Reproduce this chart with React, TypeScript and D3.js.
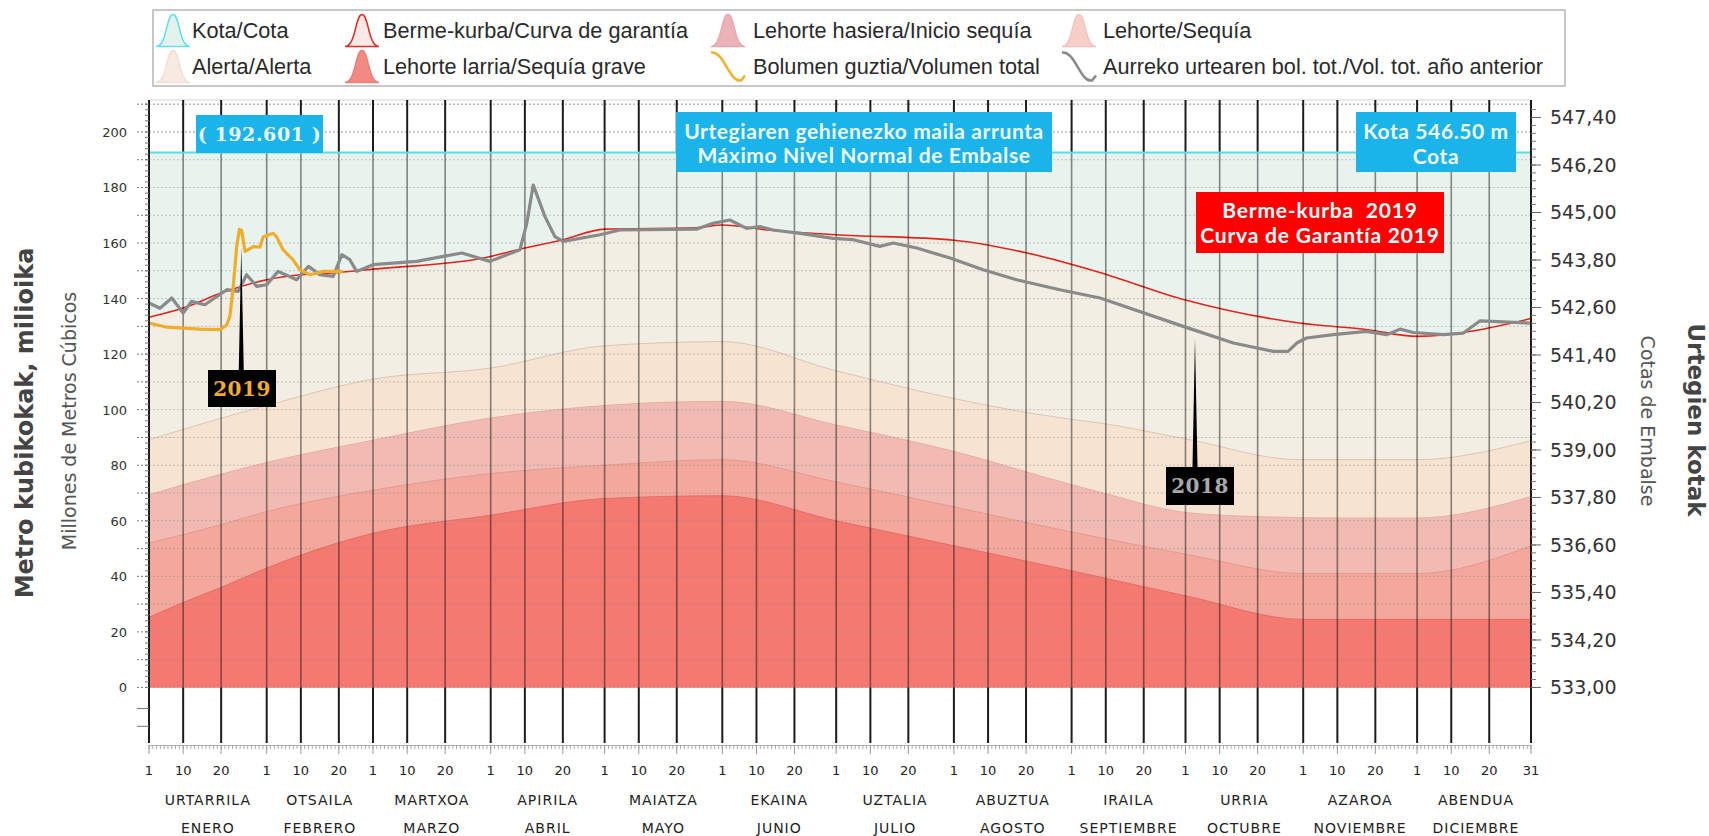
import * as d3 from 'd3';

type Pt = [number, number]; // [day of year, hm³]

// calendar
const monthStart = [1, 32, 60, 91, 121, 152, 182, 213, 244, 274, 305, 335];
const monthsEu = ['URTARRILA', 'OTSAILA', 'MARTXOA', 'APIRILA', 'MAIATZA', 'EKAINA', 'UZTALIA', 'ABUZTUA', 'IRAILA', 'URRIA', 'AZAROA', 'ABENDUA'];
const monthsEs = ['ENERO', 'FEBRERO', 'MARZO', 'ABRIL', 'MAYO', 'JUNIO', 'JULIO', 'AGOSTO', 'SEPTIEMBRE', 'OCTUBRE', 'NOVIEMBRE', 'DICIEMBRE'];
const dayMarks = [1, 10, 20];

// axes
const volumeTicks = [0, 20, 40, 60, 80, 100, 120, 140, 160, 180, 200];
const cotaTicks = [533, 534.2, 535.4, 536.6, 537.8, 539, 540.2, 541.4, 542.6, 543.8, 545, 546.2, 547.4];
const kotaLevel = 192.601;

// reference curves (hm³)
const bermeCurve: Pt[] = [
  [1, 133.3], [10, 136.6], [20, 142], [32, 146.8], [41, 148.6], [51, 149.4], [60, 150.6], [89, 154.6],
  [100, 158.2], [110, 161.2], [121, 165], [145, 165.5], [152, 166.5], [164, 164.7], [182, 163],
  [213, 161], [232, 156.5], [251, 149.6], [274, 139.5], [304, 131.2], [322, 128.8], [335, 126.4], [365, 132.8],
];
const alertaCurve: Pt[] = [
  [1, 89.2], [32, 101.5], [60, 111], [91, 115], [121, 123], [152, 124.5], [182, 114], [213, 104],
  [244, 96.5], [251, 95.3], [274, 89.5], [304, 82], [335, 82], [365, 88.8],
];
const inicioCurve: Pt[] = [
  [1, 69.4], [32, 81], [60, 89], [91, 97], [121, 101.5], [152, 103], [182, 94.5], [213, 85],
  [244, 73], [251, 70.5], [274, 63], [293, 61.5], [315, 61], [335, 61], [365, 68.7],
];
const sequiaCurve: Pt[] = [
  [1, 52], [20, 58.6], [32, 63.3], [60, 71], [91, 77], [121, 80], [152, 82], [182, 74], [213, 65],
  [244, 56], [274, 48], [305, 41], [335, 41], [365, 51],
];
const graveCurve: Pt[] = [
  [1, 25.2], [10, 30.6], [20, 36], [32, 43], [60, 55.5], [91, 62], [121, 68], [152, 69], [182, 60],
  [213, 51], [244, 42], [274, 33], [305, 24.5], [335, 24.5], [365, 24.5],
];

// stored volume 2019 and previous year
const volume2019: Pt[] = [
  [1, 131.2], [5.7, 129.7], [10.9, 129.3], [14.4, 129], [19.7, 128.8], [21.5, 130.6], [22.3, 133.6],
  [23.1, 143], [24.1, 158.7], [24.8, 164.9], [25.4, 164.5], [26.3, 157], [28.5, 158.7], [30.2, 158.5],
  [31.1, 162.3], [33.7, 163.5], [34.6, 162.3], [36.3, 157.6], [38.9, 154], [40.7, 150.4], [43.4, 148.6],
  [46.9, 149.8], [51.3, 149.8], [52.1, 149.6],
];
const volume2018: Pt[] = [
  [1, 138.4], [3.9, 136.5], [7, 140.2], [10, 134.8], [12.2, 139], [15.7, 137.8], [21.5, 143.2],
  [24.5, 142.6], [26.7, 148.6], [29.4, 144.4], [32, 145], [35, 149.8], [39.9, 146.8], [43, 151.6],
  [46, 148.6], [49.5, 148], [51.8, 155.8], [53.9, 154], [55.7, 149.8], [60, 152.2], [71.5, 153.4],
  [78.5, 155.2], [83.4, 156.4], [90.8, 153.4], [98.7, 157.6], [100.5, 167.1], [102.2, 180.9],
  [105.3, 169.5], [107.9, 162.3], [110.1, 160.6], [119.8, 163], [125, 164.7], [145.2, 165],
  [149.5, 167.1], [154, 168.3], [156.6, 166.5], [158.4, 165.3], [161.9, 165.9], [165.4, 164.7],
  [172.5, 163.5], [181.2, 161.7], [186.5, 161.2], [193.5, 158.8], [197, 160], [203.2, 158.2],
  [212, 154.6], [220.7, 150.4], [229.5, 146.8], [240.9, 143.2], [251.5, 140.2], [273.4, 130],
  [286.6, 124], [297.1, 121], [301, 121], [303.3, 124], [305.9, 125.8], [312.9, 127], [321.7, 128.2],
  [327, 127], [330.5, 129], [334, 127.8], [341.9, 127], [347.2, 127.6], [351.6, 132], [364.7, 131.2],
];

const legendLabels = [
  ['Kota/Cota', 'Berme-kurba/Curva de garantía', 'Lehorte hasiera/Inicio sequía', 'Lehorte/Sequía'],
  ['Alerta/Alerta', 'Lehorte larria/Sequía grave', 'Bolumen guztia/Volumen total', 'Aurreko urtearen bol. tot./Vol. tot. año anterior'],
];
const legendIcons = [
  [{ fill: '#e4f2ed', stroke: '#5fe0ec' }, { fill: '#fbe9e5', stroke: '#d9312a' }, { fill: '#ebb2b8', stroke: '#e8a9b1' }, { fill: '#f8cfc8', stroke: '#f5c4bc' }],
  [{ fill: '#f7eadf', stroke: '#efe1d3' }, { fill: '#f28a83', stroke: '#ee7f77' }, { line: '#f0b030' }, { line: '#8a8a8a' }],
];

const FONT = 'DejaVu Sans, Verdana, sans-serif';
const BOX_FONT = 'Lato, Open Sans, sans-serif';
const SERIF = 'DejaVu Serif, Georgia, serif';

export default function App() {
  const left = 149;
  const right = 1531;
  const top = 100;
  const bottom = 743;

  const x = d3.scaleLinear().domain([1, 365]).range([left, right]);
  const y = d3.scaleLinear().domain([-20, 211.5]).range([bottom, top]);
  const yCota = d3.scaleLinear().domain([533, 547.4]).range([y(0), y(205.2)]);

  const areaGen = d3.area<Pt>().x((d) => x(d[0])).y0(y(0)).y1((d) => y(d[1])).curve(d3.curveMonotoneX);
  const curveGen = d3.line<Pt>().x((d) => x(d[0])).y((d) => y(d[1])).curve(d3.curveMonotoneX);
  const dataGen = d3.line<Pt>().x((d) => x(d[0])).y((d) => y(d[1]));

  const gridDays: number[] = [];
  monthStart.forEach((m) => dayMarks.forEach((d) => gridDays.push(m + d - 1)));

  const yKota = y(kotaLevel);
  const y0 = y(0);

  const bands = [
    { pts: bermeCurve, fill: '#f3eee3', stroke: '#e3231b', w: 1.6 },
    { pts: alertaCurve, fill: '#f6e3d2', stroke: '#dcc6b2', w: 1 },
    { pts: inicioCurve, fill: '#f1bbb4', stroke: '#e7aea4', w: 1 },
    { pts: sequiaCurve, fill: '#f3a79d', stroke: '#e6998f', w: 1 },
    { pts: graveCurve, fill: '#f47a71', stroke: '#e56d64', w: 1 },
  ];

  const minorVol = d3.range(0, 211, 2);
  const dotVol = d3.range(0, 211, 10);
  const minorCota = d3.range(533, 547.61, 0.2);

  const legendIconX = [156, 345, 711, 1062];
  const legendTextX = [192, 383, 753, 1103];
  const legendRows = [30.5, 66.5];

  const iconPath = (ix: number, cy: number) => {
    const w = 34, t = cy - 16, b = cy + 16;
    return `M${ix},${b} C${ix + w * 0.32},${b} ${ix + w * 0.3},${t} ${ix + w / 2},${t} C${ix + w * 0.7},${t} ${ix + w * 0.68},${b} ${ix + w},${b} Z`;
  };
  const wavePath = (ix: number, cy: number) => {
    const t = cy - 14, b = cy + 14;
    return `M${ix},${t} C${ix + 13},${t - 2} ${ix + 18},${b + 2} ${ix + 30},${b} L${ix + 34},${b - 5}`;
  };

  return (
    <svg width={1709} height={836} style={{ position: 'absolute', left: 0, top: 0, background: '#fff' }}>
      {/* legend */}
      <rect x={153} y={10} width={1412} height={76} fill="#fff" stroke="#b5b5b5" strokeWidth={1.5} />
      {legendLabels.map((row, ri) =>
        row.map((label, ci) => {
          const ic = legendIcons[ri][ci] as any;
          const ix = legendIconX[ci];
          const cy = legendRows[ri];
          return (
            <g key={label}>
              {ic.line ? (
                <path d={wavePath(ix, cy)} fill="none" stroke={ic.line} strokeWidth={2.5} />
              ) : (
                <path d={iconPath(ix, cy)} fill={ic.fill} stroke={ic.stroke} strokeWidth={1.5} />
              )}
              <text x={legendTextX[ci]} y={cy + 7} fontFamily="Liberation Sans, Arial, sans-serif" fontSize={21.7} fill="#2a2a2a">
                {label}
              </text>
            </g>
          );
        }),
      )}

      {/* zones */}
      <rect x={left} y={yKota} width={right - left} height={y0 - yKota} fill="#e8f3ee" />
      {bands.map((b, i) => (
        <path key={'a' + i} d={areaGen(b.pts) as string} fill={b.fill} />
      ))}
      {bands.map((b, i) => (
        <path key={'s' + i} d={curveGen(b.pts) as string} fill="none" stroke={b.stroke} strokeWidth={b.w} />
      ))}

      {/* horizontal dotted grid */}
      {dotVol.map((v) => (
        <line key={'h' + v} x1={left} x2={right} y1={y(v)} y2={y(v)} stroke="#8a8a8a" strokeWidth={1}
          strokeDasharray="2 2" opacity={v > kotaLevel ? 0.9 : 0.45} />
      ))}
      <line x1={left} x2={right} y1={top} y2={top} stroke="#d0d0d0" />

      {/* vertical grid */}
      {gridDays.map((d) => (
        <g key={'v' + d}>
          <line x1={x(d)} x2={x(d)} y1={top} y2={yKota} stroke="#1c1c1c" strokeWidth={2} />
          <line x1={x(d)} x2={x(d)} y1={yKota} y2={y0} stroke="#000" strokeOpacity={0.45} strokeWidth={1.6} />
          <line x1={x(d)} x2={x(d)} y1={y0} y2={bottom} stroke="#1c1c1c" strokeWidth={2} />
        </g>
      ))}

      {/* kota line */}
      <line x1={left} x2={right} y1={yKota} y2={yKota} stroke="#56dde9" strokeWidth={2} />

      {/* volume lines */}
      <path d={dataGen(volume2018) as string} fill="none" stroke="#8a8a8a" strokeWidth={3.2} strokeLinejoin="round" />
      <path d={dataGen(volume2019) as string} fill="none" stroke="#f0ad2c" strokeWidth={3.2} strokeLinejoin="round" />

      {/* left axis */}
      <line x1={left} x2={left} y1={top} y2={bottom} stroke="#1c1c1c" strokeWidth={2} />
      {minorVol.map((v) => (
        <line key={'lm' + v} x1={left - 4} x2={left} y1={y(v)} y2={y(v)} stroke="#777" />
      ))}
      {dotVol.map((v) => (
        <line key={'lt' + v} x1={left - 12} x2={left} y1={y(v)} y2={y(v)} stroke="#777" strokeDasharray="2 2" />
      ))}
      {[-7.6, -14].map((v) => (
        <line key={'ln' + v} x1={left - 12} x2={left} y1={y(v)} y2={y(v)} stroke="#777" />
      ))}
      {volumeTicks.map((v) => (
        <text key={'lv' + v} x={127} y={y(v) + 5} textAnchor="end" fontFamily={FONT} fontSize={13} fill="#333">
          {v}
        </text>
      ))}

      {/* right axis */}
      <line x1={right} x2={right} y1={top} y2={bottom} stroke="#1c1c1c" strokeWidth={2} />
      {minorCota.map((v, i) => (
        <line key={'rm' + i} x1={right} x2={right + 5} y1={yCota(v)} y2={yCota(v)} stroke="#777" />
      ))}
      {cotaTicks.map((v) => (
        <g key={'rt' + v}>
          <line x1={right} x2={right + 10} y1={yCota(v)} y2={yCota(v)} stroke="#666" />
          <text x={1550} y={yCota(v) + 7} fontFamily={FONT} fontSize={19} fill="#333">
            {v.toFixed(2).replace('.', ',')}
          </text>
        </g>
      ))}

      {/* bottom axis */}
      <line x1={left} x2={right} y1={745.5} y2={745.5} stroke="#b0b0b0" />
      {d3.range(1, 366).map((d) => (
        <line key={'bt' + d} x1={x(d)} x2={x(d)} y1={745} y2={749} stroke="#aaa" />
      ))}
      {[...gridDays, 365].map((d) => (
        <line key={'bm' + d} x1={x(d)} x2={x(d)} y1={745} y2={754} stroke="#999" />
      ))}
      {monthStart.map((m, i) =>
        dayMarks.map((d) => (
          <text key={'dl' + i + d} x={x(m + d - 1)} y={775} textAnchor="middle" fontFamily={FONT} fontSize={13} fill="#222">
            {d}
          </text>
        )),
      )}
      <text x={x(365)} y={775} textAnchor="middle" fontFamily={FONT} fontSize={13} fill="#222">31</text>
      {monthStart.map((m, i) => {
        const next = i < 11 ? monthStart[i + 1] : 366;
        const cx = x((m + next) / 2);
        return (
          <g key={'mn' + i}>
            <text x={cx} y={805} textAnchor="middle" fontFamily={FONT} fontSize={14} letterSpacing={1} fill="#222">
              {monthsEu[i]}
            </text>
            <text x={cx} y={833} textAnchor="middle" fontFamily={FONT} fontSize={14} letterSpacing={1} fill="#222">
              {monthsEs[i]}
            </text>
          </g>
        );
      })}

      {/* axis titles */}
      <text transform="translate(33,423) rotate(-90)" textAnchor="middle" fontFamily={FONT} fontWeight="bold" fontSize={24} fill="#444">
        Metro kubikokak, milioika
      </text>
      <text transform="translate(76,421) rotate(-90)" textAnchor="middle" fontFamily={FONT} fontSize={19} fill="#555">
        Millones de Metros Cúbicos
      </text>
      <text transform="translate(1688,420) rotate(90)" textAnchor="middle" fontFamily={FONT} fontWeight="bold" fontSize={23} fill="#444">
        Urtegien kotak
      </text>
      <text transform="translate(1641,421) rotate(90)" textAnchor="middle" fontFamily={FONT} fontSize={19} fill="#555">
        Cotas de Embalse
      </text>

      {/* annotations */}
      <rect x={196} y={115} width={127} height={38} fill="#1bb4ea" />
      <text x={259.5} y={141} textAnchor="middle" fontFamily={SERIF} fontWeight="bold" fontSize={19} letterSpacing={0.6} fill="#eaf8ff" style={{ whiteSpace: 'pre' }}>
        {'( ' + kotaLevel.toFixed(3) + ' )'}
      </text>

      <rect x={676} y={112} width={376} height={60} fill="#1bb4ea" />
      <text x={864} y={139} textAnchor="middle" fontFamily={BOX_FONT} fontWeight="bold" fontSize={21} letterSpacing={0.6} fill="#f0fbff">
        Urtegiaren gehienezko maila arrunta
      </text>
      <text x={864} y={163} textAnchor="middle" fontFamily={BOX_FONT} fontWeight="bold" fontSize={21} letterSpacing={0.6} fill="#f0fbff">
        Máximo Nivel Normal de Embalse
      </text>

      <rect x={1356} y={112} width={160} height={60} fill="#1bb4ea" />
      <text x={1436} y={139} textAnchor="middle" fontFamily={BOX_FONT} fontWeight="bold" fontSize={21} letterSpacing={0.6} fill="#f0fbff">
        Kota 546.50 m
      </text>
      <text x={1436} y={164} textAnchor="middle" fontFamily={BOX_FONT} fontWeight="bold" fontSize={21} letterSpacing={0.6} fill="#f0fbff">
        Cota
      </text>

      <rect x={1196} y={192} width={248} height={61} fill="#ff0000" />
      <text x={1320} y={218} textAnchor="middle" fontFamily={BOX_FONT} fontWeight="bold" fontSize={21} fill="#fff" letterSpacing={0.8} style={{ whiteSpace: 'pre' }}>
        {'Berme-kurba  2019'}
      </text>
      <text x={1320} y={243} textAnchor="middle" fontFamily={BOX_FONT} fontWeight="bold" fontSize={21} fill="#fff" letterSpacing={0.8}>
        Curva de Garantía 2019
      </text>

      <polygon points={`${x(25.3) - 2.5},370 ${x(25.3) + 2.5},370 ${x(25.3)},247`} fill="#000" />
      <rect x={208} y={370} width={68} height={37} fill="#000" />
      <text x={242} y={396} textAnchor="middle" fontFamily={SERIF} fontWeight="bold" fontSize={20} letterSpacing={0.5} fill="#f0ad2c">
        2019
      </text>

      <polygon points={`${x(276.5) - 2.5},467 ${x(276.5) + 2.5},467 ${x(276.5)},338`} fill="#000" />
      <rect x={1166} y={467} width={68} height={38} fill="#000" />
      <text x={1200} y={493} textAnchor="middle" fontFamily={SERIF} fontWeight="bold" fontSize={20} letterSpacing={0.5} fill="#a8a8a8">
        2018
      </text>
    </svg>
  );
}
